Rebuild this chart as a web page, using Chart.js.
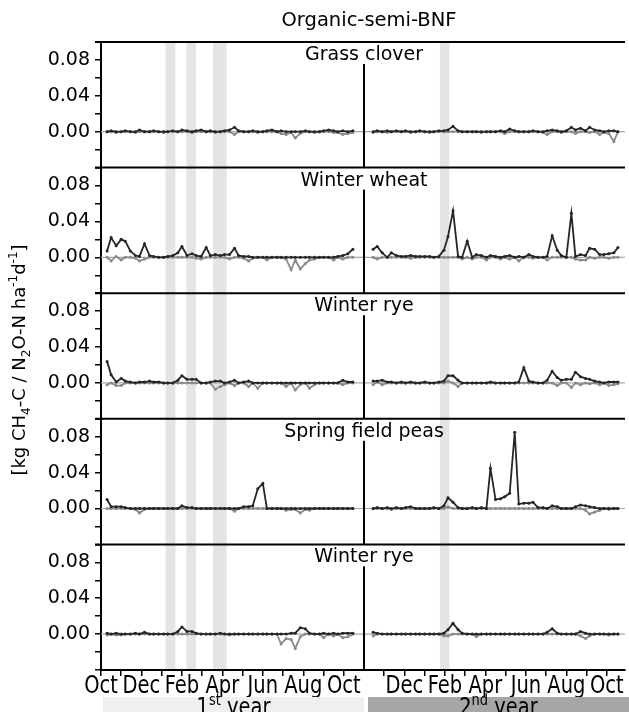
<!DOCTYPE html>
<html>
<head>
<meta charset="utf-8">
<script src="https://cdn.jsdelivr.net/npm/chart.js@4.4.1/dist/chart.umd.min.js"></script>
<style>
  html, body { margin: 0; padding: 0; background: #fff; }
</style>
</head>
<body>
<canvas id="fluxChart" width="629" height="712"></canvas>
<script>
// x positions are months counted from 1 October of the 1st year;
// the 2nd year is drawn right of the divider, starting again at Oct (= 13)
const year1Dates = [0.3, 0.5, 0.75, 1.0, 1.2, 1.45, 1.7, 1.9, 2.15, 2.4,
  2.6, 2.85, 3.1, 3.3, 3.55, 3.8, 4.0, 4.25, 4.5, 4.7,
  4.95, 5.2, 5.4, 5.65, 5.9, 6.1, 6.35, 6.6, 6.8, 7.05,
  7.3, 7.5, 7.75, 8.0, 8.2, 8.45, 8.7, 8.9, 9.15, 9.4,
  9.6, 9.85, 10.1, 10.3, 10.55, 10.8, 11.0, 11.25, 11.5, 11.7,
  11.95, 12.2, 12.45];
const year2Dates = [13.45, 13.65, 13.9, 14.15, 14.35, 14.6, 14.85, 15.05, 15.3, 15.55,
  15.75, 16.0, 16.25, 16.45, 16.7, 16.95, 17.15, 17.4, 17.65, 17.85,
  18.1, 18.35, 18.55, 18.8, 19.05, 19.25, 19.5, 19.75, 19.95, 20.2,
  20.45, 20.65, 20.9, 21.15, 21.35, 21.6, 21.85, 22.05, 22.3, 22.55,
  22.75, 23.0, 23.25, 23.45, 23.7, 23.95, 24.15, 24.4, 24.65, 24.85,
  25.1, 25.35, 25.55];

const tickMonths = [0, 1, 2, 3, 4, 5, 6, 7, 8, 9, 10, 11, 12,
  14, 15, 16, 17, 18, 19, 20, 21, 22, 23, 24, 25];
const tickLabels = ["Oct", "", "Dec", "", "Feb", "", "Apr", "", "Jun", "", "Aug", "", "Oct",
  "", "Dec", "", "Feb", "", "Apr", "", "Jun", "", "Aug", "", "Oct"];
const yTickValues = [-0.04, -0.02, 0, 0.02, 0.04, 0.06, 0.08, 0.1];
const yTickLabels = ["", "", "0.00", "", "0.04", "", "0.08", ""];

// shaded periods (months)
const bandStart = [3.19, 4.22, 5.54, 16.75];
const bandEnd = [3.68, 4.69, 6.21, 17.22];
const yearDivider = 13;

const panelTitles = ["Grass clover", "Winter wheat", "Winter rye", "Spring field peas", "Winter rye"];

// black = N2O-N, grey = CH4-C  [kg ha-1 d-1]
const grassN2O1 = [0, 0.001, 0, 0, 0.001, 0, 0, 0.002, 0, 0,
  0.001, 0, 0, 0, 0.001, 0, 0.002, 0.001, 0, 0.001,
  0.002, 0, 0.001, 0, 0, 0.001, 0.002, 0.005, 0.001, 0,
  0, 0.001, 0, 0, 0.001, 0.002, 0, 0.001, 0, 0,
  0, 0, 0.001, 0, 0, 0, 0.001, 0.002, 0.001, 0,
  0.001, 0, 0.001];
const grassCH41 = [0, 0, -0.001, 0, 0, 0, -0.001, 0, 0, 0,
  0, 0, -0.001, 0, 0, 0, 0, 0, -0.001, 0,
  0, 0, 0, -0.001, 0, 0, 0, -0.003, 0, 0,
  0, 0, -0.001, 0, 0, 0, 0, -0.002, -0.003, -0.001,
  -0.007, -0.002, 0, 0, -0.001, 0, 0, 0, -0.001, -0.001,
  -0.003, -0.002, -0.001];
const grassN2O2 = [0, 0.001, 0, 0.001, 0, 0.001, 0, 0.001, 0, 0,
  0.001, 0, 0, 0, 0.001, 0.001, 0.002, 0.006, 0.001, 0,
  0, 0, 0, 0, 0, 0, 0, 0.001, 0, 0.003,
  0.001, 0, 0, 0, 0.001, 0, 0, 0.001, 0.002, 0.001,
  0, 0.001, 0.005, 0.002, 0.004, 0.001, 0.005, 0.002, 0.001, 0,
  0.001, 0.001, 0];
const grassCH42 = [-0.001, 0, 0, -0.001, 0, 0, 0, 0, -0.001, 0,
  0, 0, -0.001, 0, 0, 0, 0, 0, 0, 0,
  0, 0, 0, -0.001, 0, 0, 0, 0, -0.002, 0,
  0, 0, 0, 0, 0, 0, -0.001, -0.003, 0, 0,
  -0.001, 0, 0, -0.002, 0, 0, -0.001, 0, -0.003, -0.001,
  -0.002, -0.011, 0];

const wheatN2O1 = [0.007, 0.022, 0.013, 0.020, 0.018, 0.007, 0.002, 0.001, 0.015, 0.002,
  0.001, 0, 0, 0.001, 0.002, 0.005, 0.012, 0.002, 0.004, 0.002,
  0.001, 0.011, 0.002, 0.003, 0.002, 0.003, 0.003, 0.010, 0.002, 0.001,
  0.001, 0, 0, 0, 0, 0, 0, 0, 0, 0,
  0, 0, 0, 0, 0, 0, 0, 0, 0, 0.001,
  0.002, 0.004, 0.009];
const wheatCH41 = [0, -0.004, 0.001, -0.003, 0, 0, -0.001, -0.004, -0.002, 0,
  0, 0, 0, 0, 0, 0, 0, 0, 0, -0.001,
  -0.002, 0, 0, 0, 0, 0, -0.002, 0, 0, -0.001,
  -0.004, -0.001, 0, 0, -0.003, 0, 0, 0, -0.002, -0.014,
  -0.003, -0.013, -0.007, -0.003, -0.002, 0, 0, 0, -0.003, 0,
  -0.002, 0, 0];
const wheatN2O2 = [0.009, 0.012, 0.005, 0, 0.005, 0.002, 0.001, 0.001, 0.002, 0.001,
  0.001, 0.001, 0.001, 0, 0.001, 0.008, 0.023, 0.052, 0.001, 0,
  0.018, 0, 0.003, 0.002, 0, 0.002, 0.001, 0, 0.001, 0.002,
  0, 0.001, 0, 0.003, 0.001, 0, 0, 0.001, 0.024, 0.008,
  0.002, 0, 0.049, 0.001, 0.003, 0.002, 0.010, 0.009, 0.003, 0.003,
  0.004, 0.005, 0.011];
const wheatCH42 = [0, -0.002, 0, 0, 0, 0, 0, 0, -0.001, 0,
  0, 0, 0, 0, 0, 0, 0, 0, 0, -0.002,
  0, -0.002, 0, 0, -0.003, 0, 0, -0.002, 0, -0.002,
  0, -0.004, 0, 0, -0.001, 0, 0, -0.003, 0, 0,
  0, 0, 0, -0.002, -0.003, -0.003, 0, -0.001, 0, 0,
  -0.001, 0, 0];

const ryeN2O1 = [0.024, 0.009, 0.001, 0.005, 0.002, 0.001, 0, 0.001, 0.001, 0.002,
  0.001, 0.001, 0, 0, 0, 0.003, 0.008, 0.004, 0.004, 0.004,
  0, 0, 0.001, 0.002, 0.002, 0, 0.001, 0.003, 0, 0.001,
  0.002, 0, 0, 0, 0, 0, 0, 0, 0, 0,
  0, 0, 0, 0, 0, 0, 0, 0, 0, 0,
  0.003, 0.001, 0.001];
const ryeCH41 = [-0.002, 0, -0.003, -0.003, 0, 0, 0, 0, 0, 0,
  0, 0, 0, 0, 0, 0, 0, 0, 0, 0,
  0, 0, 0, -0.007, -0.004, -0.002, 0, -0.003, 0, 0,
  -0.004, 0, -0.006, 0, 0, 0, 0, 0, -0.004, 0,
  -0.008, -0.002, 0, -0.006, -0.002, 0, 0, 0, 0, 0,
  -0.002, 0, 0];
const ryeN2O2 = [0.002, 0.002, 0.003, 0.001, 0.001, 0, 0.001, 0, 0.001, 0,
  0, 0.001, 0, 0, 0.001, 0.002, 0.008, 0.008, 0.003, 0,
  0, 0, 0, 0, 0, 0.001, 0, 0, 0, 0,
  0, 0.001, 0.017, 0.002, 0.001, 0, 0, 0.003, 0.013, 0.006,
  0.003, 0.004, 0.004, 0.012, 0.007, 0.005, 0.004, 0.002, 0.001, 0,
  0.001, 0.001, 0.001];
const ryeCH42 = [-0.002, 0.001, -0.002, 0, 0, 0, 0, 0, 0, 0,
  0, 0, 0, 0, 0, 0, 0.002, 0, -0.004, 0,
  0, 0, 0, 0, 0, 0, 0, 0, 0, 0,
  0, 0, 0, 0, 0, 0, 0, 0, 0, -0.003,
  0, 0, -0.005, 0, -0.002, 0, -0.001, 0, -0.002, 0,
  -0.003, -0.002, -0.001];

const peasN2O1 = [0.010, 0.002, 0.002, 0.002, 0.001, 0, 0, 0, 0, 0,
  0, 0, 0, 0, 0, 0, 0.003, 0.001, 0.001, 0,
  0, 0, 0, 0, 0, 0, 0, 0, 0, 0.002,
  0.002, 0.003, 0.022, 0.028, 0, 0, 0, 0, 0, 0,
  0, 0, 0, 0, 0, 0, 0, 0, 0, 0,
  0, 0, 0];
const peasCH41 = [0, 0, 0, 0, 0, 0, -0.001, -0.005, -0.001, 0,
  0, 0, 0, 0, 0, 0, 0, 0, 0, 0,
  0, 0, 0, 0, 0, 0, 0, -0.003, 0, 0,
  0, 0, 0, 0, 0, 0, 0, 0, -0.002, -0.001,
  -0.001, -0.005, -0.001, -0.002, 0, 0, 0, 0, 0, 0,
  0, 0, 0];
const peasN2O2 = [0, 0.001, 0, 0.001, 0, 0.001, 0, 0.001, 0.002, 0,
  0, 0, 0, 0.001, 0, 0.003, 0.012, 0.007, 0.001, 0,
  0, 0.001, 0, 0.001, 0, 0.045, 0.010, 0.011, 0.013, 0.017,
  0.085, 0.005, 0.006, 0.006, 0.007, 0.001, 0.001, 0, 0.003, 0.002,
  0, 0, 0, 0.002, 0.004, 0.003, 0.002, 0.001, 0, 0,
  0, 0, 0];
const peasCH42 = [0, 0, 0, 0, -0.001, 0, 0, 0, 0, 0,
  0, 0, 0, 0, 0, 0, 0.002, 0, 0, 0,
  0, 0, 0, 0, 0, 0, 0, 0, 0, 0,
  0, 0, 0, 0, 0, 0, 0, 0, 0, 0,
  0, 0, 0, 0, 0, -0.002, -0.006, -0.004, -0.002, 0,
  -0.001, 0, 0];

const rye2N2O1 = [0.001, 0, 0.001, 0, 0, 0, 0.001, 0, 0.002, 0,
  0, 0, 0, 0, 0, 0.003, 0.008, 0.003, 0.003, 0.001,
  0, 0, 0, 0, 0.001, 0, 0, 0, 0, 0,
  0, 0, 0, 0, 0, 0, 0, 0, 0, 0.001,
  0.001, 0.007, 0.006, 0.001, 0, 0, 0.001, 0, 0.001, 0,
  0.001, 0.001, 0.001];
const rye2CH41 = [-0.001, 0, -0.001, -0.001, 0, 0, 0, 0, 0, 0,
  0, 0, 0, 0, 0, 0, 0, 0, 0, 0,
  0, 0, 0, 0, 0, 0, -0.001, 0, 0, 0,
  0, 0, 0, 0, 0, 0, 0, -0.011, -0.005, -0.006,
  -0.016, -0.003, 0, 0, 0, 0, -0.004, 0, -0.002, 0,
  -0.004, -0.003, 0];
const rye2N2O2 = [0.002, 0.001, 0, 0, 0, 0, 0, 0, 0, 0,
  0, 0, 0, 0, 0, 0.001, 0.005, 0.012, 0.005, 0.001,
  0, 0, 0, 0, 0, 0, 0, 0, 0, 0,
  0, 0, 0, 0, 0, 0, 0, 0.002, 0.006, 0.001,
  0, 0, 0, 0, 0.003, 0.001, 0, 0, 0, 0,
  0, 0, 0];
const rye2CH42 = [-0.002, 0, 0, 0, 0, 0, 0, 0, 0, 0,
  0, 0, 0, 0, 0, -0.002, -0.002, 0, 0, 0,
  0, 0, -0.003, 0, 0, 0, 0, 0, 0, 0,
  0, 0, 0, 0, 0, 0, 0, 0, 0, 0,
  0, 0, 0, 0, -0.002, -0.005, -0.002, 0, 0, 0,
  -0.001, 0, 0];

// one row per panel, top to bottom
const panelSeries = [
  [grassN2O1, grassCH41, grassN2O2, grassCH42],
  [wheatN2O1, wheatCH41, wheatN2O2, wheatCH42],
  [ryeN2O1, ryeCH41, ryeN2O2, ryeCH42],
  [peasN2O1, peasCH41, peasN2O2, peasCH42],
  [rye2N2O1, rye2CH41, rye2N2O2, rye2CH42],
];

const FONT = "'DejaVu Sans', 'Liberation Sans', Arial, sans-serif";
const N2O_COLOUR = "#262626";
const CH4_COLOUR = "#8a8a8a";
// month labels and year labels in the original are drawn a bit taller than wide
const X_LABEL_STRETCH = 1.25;

function toPoints(dates, values) {
  return dates.map((d, i) => ({ x: d, y: values[i] }));
}

function makeDataset(dates, values, colour, axisId) {
  return {
    data: toPoints(dates, values),
    yAxisID: axisId,
    borderColor: colour,
    backgroundColor: colour,
    borderWidth: 1.8,
    pointRadius: 1.5,
    pointBorderWidth: 0,
    tension: 0,
  };
}

const datasets = [];
// N2O first so it is painted on top of CH4
panelSeries.forEach((s, p) => {
  datasets.push(makeDataset(year1Dates, s[0], N2O_COLOUR, "p" + p));
  datasets.push(makeDataset(year2Dates, s[2], N2O_COLOUR, "p" + p));
});
panelSeries.forEach((s, p) => {
  datasets.push(makeDataset(year1Dates, s[1], CH4_COLOUR, "p" + p));
  datasets.push(makeDataset(year2Dates, s[3], CH4_COLOUR, "p" + p));
});

const scales = {
  x: {
    type: "linear",
    position: "bottom",
    min: 0,
    max: 25.9,
    afterFit: (s) => { s.height = 42; },
    afterBuildTicks: (s) => { s.ticks = tickMonths.map((v) => ({ value: v })); },
    // labels are painted by panelDecor so they can be stretched
    ticks: { display: false, autoSkip: false },
    grid: { drawOnChartArea: false, tickLength: 6, color: "#000", lineWidth: 1.5 },
    border: { color: "#000", width: 2 },
  },
};
// stacked panels: higher weight is placed higher up
panelTitles.forEach((t, p) => {
  scales["p" + p] = {
    type: "linear",
    position: "left",
    stack: "panels",
    stackWeight: 1,
    weight: panelTitles.length - p,
    min: -0.04,
    max: 0.1,
    afterFit: (s) => { s.width = 101; },
    afterBuildTicks: (s) => { s.ticks = yTickValues.map((v) => ({ value: v })); },
    ticks: {
      autoSkip: false,
      padding: 5,
      color: "#000",
      font: { family: FONT, size: 19 },
      callback: (v, i) => yTickLabels[i],
    },
    grid: { drawOnChartArea: false, tickLength: 6, color: "#000", lineWidth: 1.5 },
    border: { color: "#000", width: 2 },
  };
});

// draws text made of pieces, some of them sub- or superscript,
// centred on x, with an optional vertical stretch
function drawRichText(ctx, parts, x, y, size, stretch) {
  const small = Math.round(size * 0.66);
  let width = 0;
  parts.forEach((pt) => {
    ctx.font = (pt.sub || pt.sup ? small : size) + "px " + FONT;
    width += ctx.measureText(pt.t).width;
  });
  ctx.save();
  ctx.translate(x, y);
  ctx.scale(1, stretch || 1);
  let cx = -width / 2;
  ctx.textAlign = "left";
  ctx.textBaseline = "alphabetic";
  parts.forEach((pt) => {
    ctx.font = (pt.sub || pt.sup ? small : size) + "px " + FONT;
    let dy = 0;
    if (pt.sub) dy = size * 0.25;
    if (pt.sup) dy = -size * 0.42;
    ctx.fillText(pt.t, cx, dy);
    cx += ctx.measureText(pt.t).width;
  });
  ctx.restore();
}

const yTitleParts = [
  { t: "[kg CH" }, { t: "4", sub: true }, { t: "-C / N" }, { t: "2", sub: true },
  { t: "O-N ha" }, { t: "-1", sup: true }, { t: "d" }, { t: "-1", sup: true }, { t: "]" },
];
const year1Parts = [{ t: "1" }, { t: "st", sup: true }, { t: " year" }];
const year2Parts = [{ t: "2" }, { t: "nd", sup: true }, { t: " year" }];

const panelDecor = {
  id: "panelDecor",
  beforeDraw(chart) {
    const { ctx, chartArea } = chart;
    const x = chart.scales.x;
    ctx.save();
    ctx.fillStyle = "#fff";
    ctx.fillRect(0, 0, chart.width, chart.height);
    ctx.fillStyle = "#e4e4e4";
    bandStart.forEach((b, i) => {
      const x0 = x.getPixelForValue(b);
      const x1 = x.getPixelForValue(bandEnd[i]);
      ctx.fillRect(x0, chartArea.top, x1 - x0, chartArea.bottom - chartArea.top);
    });
    ctx.restore();
  },
  beforeDatasetsDraw(chart) {
    const { ctx, chartArea } = chart;
    ctx.save();
    ctx.strokeStyle = "#a8a8a8";
    ctx.lineWidth = 1.2;
    panelTitles.forEach((t, p) => {
      const y0 = chart.scales["p" + p].getPixelForValue(0);
      ctx.beginPath();
      ctx.moveTo(chartArea.left, y0);
      ctx.lineTo(chartArea.right, y0);
      ctx.stroke();
    });
    ctx.restore();
  },
  afterDraw(chart) {
    const { ctx, chartArea } = chart;
    const xScale = chart.scales.x;
    const xDiv = xScale.getPixelForValue(yearDivider);
    ctx.save();
    ctx.strokeStyle = "#000";
    ctx.fillStyle = "#000";
    panelTitles.forEach((t, p) => {
      const s = chart.scales["p" + p];
      // panel frame line
      ctx.lineWidth = 2;
      ctx.beginPath();
      ctx.moveTo(chartArea.left - 6, s.top);
      ctx.lineTo(chartArea.right, s.top);
      ctx.stroke();
      // year divider
      ctx.beginPath();
      ctx.moveTo(xDiv, s.top + 22);
      ctx.lineTo(xDiv, s.bottom);
      ctx.stroke();
      // crop title
      ctx.font = "19px " + FONT;
      ctx.textAlign = "center";
      ctx.textBaseline = "alphabetic";
      ctx.fillText(t, xDiv, s.top + 18);
    });

    // chart title
    ctx.font = "19.5px " + FONT;
    ctx.textAlign = "center";
    ctx.fillText("Organic-semi-BNF", 369, 26);

    // month labels under the ticks of the x scale
    tickMonths.forEach((m, i) => {
      if (!tickLabels[i]) return;
      drawRichText(ctx, [{ t: tickLabels[i] }], xScale.getPixelForValue(m), 693, 19.5, X_LABEL_STRETCH);
    });

    // y axis title
    ctx.save();
    ctx.translate(25, 360);
    ctx.rotate(-Math.PI / 2);
    drawRichText(ctx, yTitleParts, 0, 0, 18);
    ctx.restore();

    // year bars under the x axis (they cover the descenders of the month labels)
    ctx.fillStyle = "#efefef";
    ctx.fillRect(103, 697, xDiv - 103, 15);
    ctx.fillStyle = "#a6a6a6";
    ctx.fillRect(xDiv + 4, 697, chart.width - xDiv - 4, 15);
    ctx.fillStyle = "#000";
    drawRichText(ctx, year1Parts, (103 + xDiv) / 2, 715, 19.5, X_LABEL_STRETCH);
    drawRichText(ctx, year2Parts, (xDiv + 4 + chart.width) / 2, 715, 19.5, X_LABEL_STRETCH);
    ctx.restore();
  },
};

new Chart(document.getElementById("fluxChart").getContext("2d"), {
  type: "line",
  data: { datasets: datasets },
  options: {
    responsive: false,
    animation: false,
    events: [],
    layout: { padding: { top: 42, left: 0, right: 0, bottom: 0 } },
    plugins: { legend: { display: false }, tooltip: { enabled: false }, title: { display: false } },
    scales: scales,
  },
  plugins: [panelDecor],
});
</script>
</body>
</html>
